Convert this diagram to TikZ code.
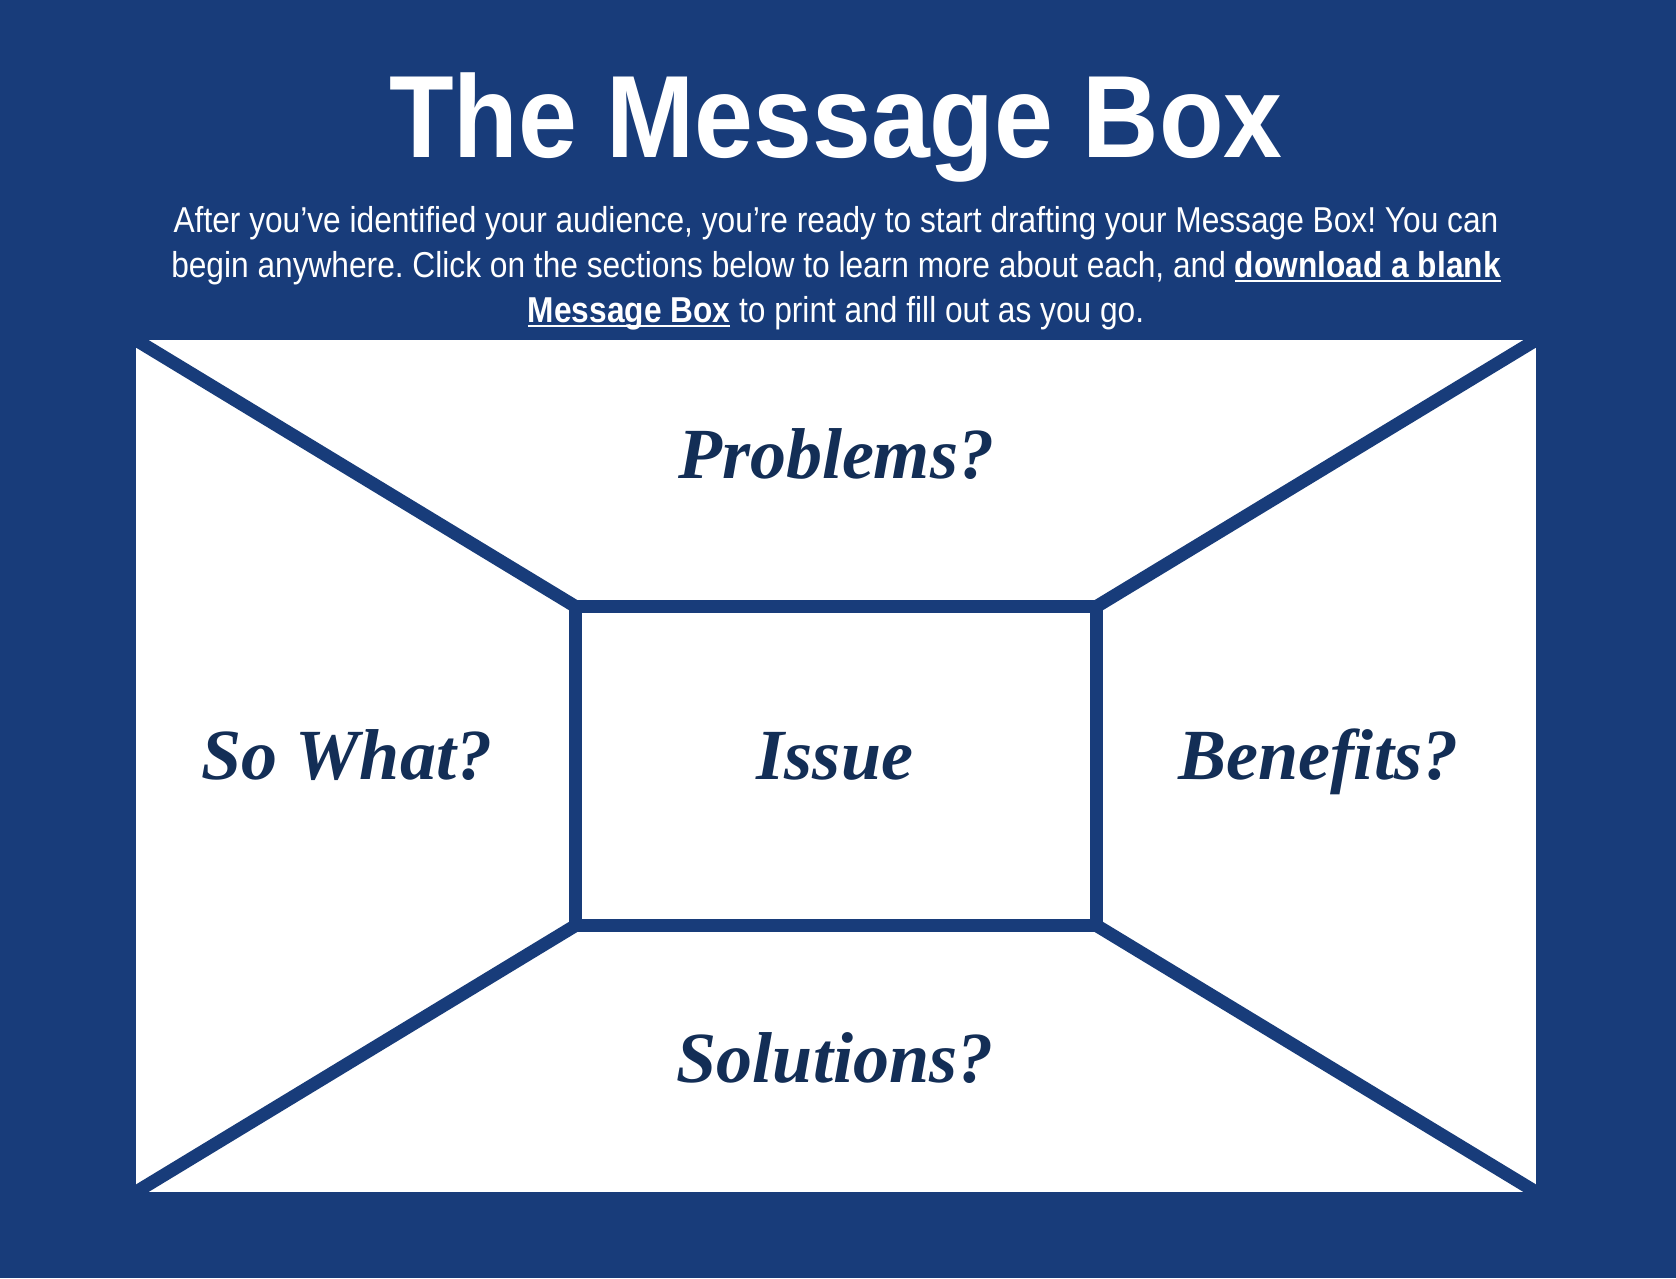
\documentclass[tikz,border=0pt]{standalone}
\usepackage{fontspec}
\setmainfont{Liberation Sans}
\newfontfamily\titlefont[FakeStretch=0.904]{Liberation Sans}
\newfontfamily\introfont[FakeStretch=0.88]{Liberation Sans}
\newfontfamily\labelfont{Liberation Serif}
\definecolor{boxblue}{RGB}{24,60,122}
\definecolor{lettercolor}{RGB}{19,46,86}
\usetikzlibrary{positioning}
\frenchspacing
\tikzset{
	heading/.style={
		text=white,
		font=\titlefont\bfseries\fontsize{117}{120}\selectfont,
		inner sep=0pt,
		anchor=base
	},
	intro/.style={
		text=white,
		font=\introfont\fontsize{36}{45}\selectfont,
		inner sep=0pt,
		anchor=base
	},
	sectionlabel/.style={
		text=lettercolor,
		font=\labelfont\bfseries\itshape\fontsize{72}{80}\selectfont,
		inner sep=0pt,
		anchor=base
	},
	issuebox/.style={
		rectangle,
		draw=boxblue,
		line width=13pt,
		outer sep=0pt,
		minimum width=521pt,
		minimum height=319pt
	},
	divider/.style={
		draw=boxblue,
		line width=13pt
	},
}
\newcommand{\linktext}[1]{\setbox0\hbox{\bfseries #1}\rlap{\rule[-5pt]{\wd0}{2.5pt}}\box0\relax}

\begin{document}
\begin{tikzpicture}[x=1pt,y=-1pt]
			\fill[boxblue] (0,0) rectangle (1676,1278);
			\useasboundingbox (0,0) rectangle (1676,1278);
			
			\node[heading] (title) at (836,157) {The Message Box};
			\node[intro] (line1) at (836,232) {After you’ve identified your audience, you’re ready to start drafting your Message Box! You can};
			\node[intro] (line2) [below=45pt of line1.base,anchor=base] {begin anywhere. Click on the sections below to learn more about each, and \linktext{download a blank}};
			\node[intro] (line3) [below=45pt of line2.base,anchor=base] {\linktext{Message Box} to print and fill out as you go.};
			
			\coordinate (nw) at (136,340);
			\coordinate (ne) at (1536,340);
			\coordinate (se) at (1536,1192);
			\coordinate (sw) at (136,1192);
			\fill[white] (nw) rectangle (se);
			
			\node[issuebox] (issue) at (836,766) {};
			\path[divider] 
			(nw) edge (issue.north west)
			(ne) edge (issue.north east)
			(se) edge (issue.south east)
			(sw) edge (issue.south west)
			;
			
			\node[sectionlabel] (problems) at (836,478) {Problems?};
			\node[sectionlabel] (sowhat) at (347,779) {So What?};
			\node[sectionlabel] (issuelabel) at (835,779) {Issue};
			\node[sectionlabel] (benefits) at (1318,779) {Benefits?};
			\node[sectionlabel] (solutions) at (835,1082) {Solutions?};
			%\draw[red] (issue.center) circle (3pt);
\end{tikzpicture}
\end{document}
